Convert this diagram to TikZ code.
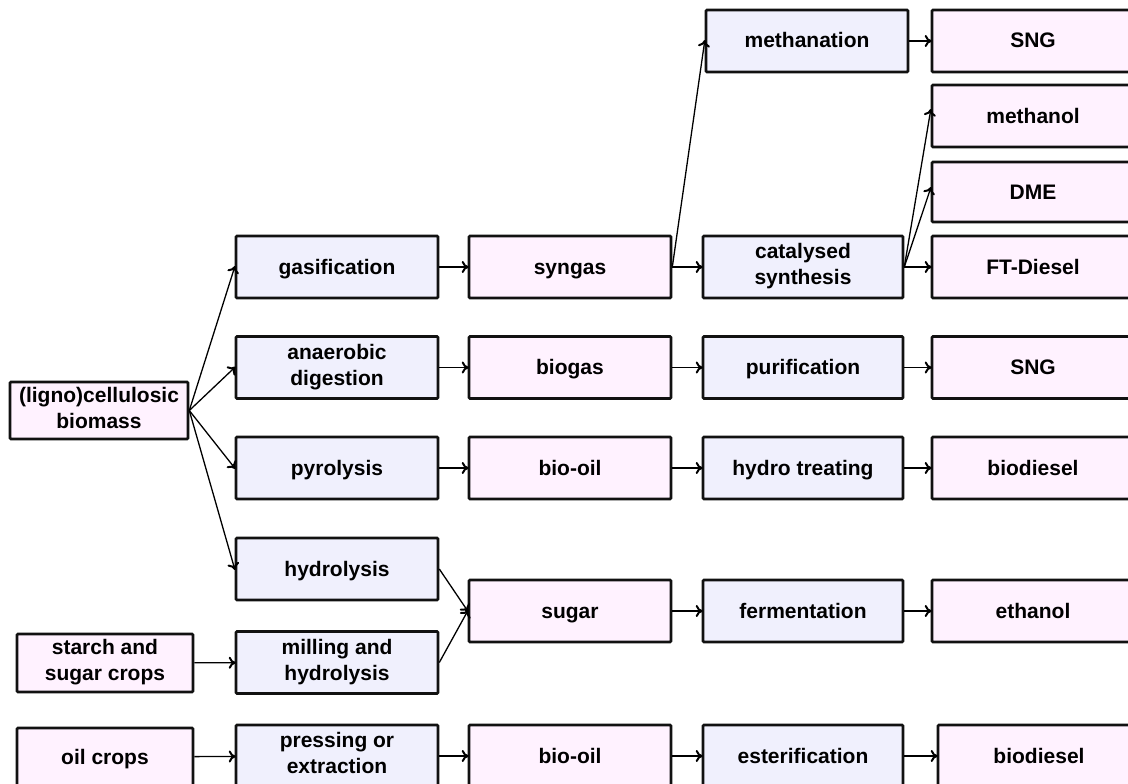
\documentclass[tikz,border=0pt]{standalone}
\usepackage{fontspec}
\setmainfont{Liberation Sans}
\usepackage{tikz}
\usetikzlibrary{arrows.meta,positioning}
\usepackage{xcolor}
\definecolor{prodfill}{HTML}{FFF2FF}
\definecolor{procfill}{HTML}{F0F0FD}
\definecolor{edgeblack}{HTML}{111111}
\newcommand{\boxstrut}{\rule[-6pt]{0pt}{26pt}}

\begin{document}
\begin{tikzpicture}[
  x=1pt, y=-1pt,
  font=\fontsize{21}{26}\selectfont\bfseries,
  prodbox/.style={
    draw=edgeblack,
    fill=prodfill,
    line width=2.6pt,
    rounded corners=1pt,
    inner sep=0pt,
    minimum width=202pt,
    minimum height=62pt,
    align=center,
    execute at begin node=\boxstrut,
    execute at end node=\boxstrut
  },
  procbox/.style={
    prodbox,
    fill=procfill
  },
  feedbox/.style={
    prodbox,
    minimum width=176pt,
    minimum height=58pt
  },
  flowarrow/.style={
    -{To[length=7pt,width=12pt,line width=2pt]},
    line width=1.3pt,
    draw=black,
    shorten >=-1pt
  }
]
  \clip (0,0) rectangle (1128,784);
  \fill[white] (0,0) rectangle (1128,784);

  % ----------------------------------------------------
  % FEEDSTOCKS
  % ----------------------------------------------------
  \node[feedbox, minimum width=178pt, minimum height=57pt] (ligno) at (99, 410.5) {(ligno)cellulosic\\biomass};
  \node[feedbox] (starch) at (105, 663) {starch and\\sugar crops};
  \node[feedbox] (oilcrops) at (105, 757) {oil crops};

  % ----------------------------------------------------
  % FIRST CONVERSION STEP
  % ----------------------------------------------------
  \node[procbox] (gasif) at (337, 267) {gasification};
  \node[procbox] (anaer) at (337, 367.5) {anaerobic\\digestion};
  \node[procbox] (pyrol) at (337, 468) {pyrolysis};
  \node[procbox] (hydrol) at (337, 569) {hydrolysis};
  \node[procbox] (milling) at (337, 662.5) {milling and\\hydrolysis};
  \node[procbox] (pressing) at (337, 756) {pressing or\\extraction};

  % ----------------------------------------------------
  % INTERMEDIATES
  % ----------------------------------------------------
  \node[prodbox] (syngas) at (570, 267) {syngas};
  \node[prodbox] (biogas) at (570, 367.5) {biogas};
  \node[prodbox] (biooilA) at (570, 468) {bio-oil};
  \node[prodbox] (sugar) at (570, 611) {sugar};
  \node[prodbox] (biooilB) at (570, 756) {bio-oil};

  % ----------------------------------------------------
  % UPGRADING STEP
  % ----------------------------------------------------
  \node[procbox] (methanation) at (807, 41) {methanation};
  \node[procbox, minimum width=200pt] (catsyn) at (803, 267) {catalysed\\synthesis};
  \node[procbox, minimum width=200pt] (purif) at (803, 367.5) {purification};
  \node[procbox, minimum width=200pt] (hydrotreat) at (803, 468) {hydro treating};
  \node[procbox, minimum width=200pt] (ferment) at (803, 611) {fermentation};
  \node[procbox, minimum width=200pt] (ester) at (803, 756) {esterification};

  % ----------------------------------------------------
  % FINAL PRODUCTS
  % ----------------------------------------------------
  \node[prodbox] (sngA) at (1033, 41) {SNG};
  \node[prodbox] (methanol) at (1033, 116) {methanol};
  \node[prodbox, minimum height=60pt] (dme) at (1033, 192) {DME};
  \node[prodbox] (ftdiesel) at (1033, 267) {FT-Diesel};
  \node[prodbox] (sngB) at (1033, 367.5) {SNG};
  \node[prodbox] (biodieselA) at (1033, 468) {biodiesel};
  \node[prodbox] (ethanol) at (1033, 611) {ethanol};
  \node[prodbox] (biodieselB) at (1039, 756) {biodiesel};

  % Feedstock to first step
  \draw[flowarrow] (ligno.east) -- (gasif.west);
  \draw[flowarrow] (ligno.east) -- (anaer.west);
  \draw[flowarrow] (ligno.east) -- (pyrol.west);
  \draw[flowarrow] (ligno.east) -- (hydrol.west);
  \draw[flowarrow] (starch) -- (milling);
  \draw[flowarrow] (oilcrops) -- (pressing);

  % First step to intermediates
  \draw[flowarrow] (gasif) -- (syngas);
  \draw[flowarrow] (anaer) -- (biogas);
  \draw[flowarrow] (pyrol) -- (biooilA);
  \draw[flowarrow] (hydrol.east) -- (sugar.west);
  \draw[flowarrow] (milling.east) -- (sugar.west);
  \draw[flowarrow] (pressing) -- (biooilB);

  % Intermediates to upgrading
  \draw[flowarrow] (syngas.east) -- (methanation.west);
  \draw[flowarrow] (syngas) -- (catsyn);
  \draw[flowarrow] (biogas) -- (purif);
  \draw[flowarrow] (biooilA) -- (hydrotreat);
  \draw[flowarrow] (sugar) -- (ferment);
  \draw[flowarrow] (biooilB) -- (ester);

  % Upgrading to products
  \draw[flowarrow] (methanation) -- (sngA);
  \draw[flowarrow] (catsyn.east) -- ([yshift=6pt]methanol.west);
  \draw[flowarrow] (catsyn.east) -- ([yshift=4pt]dme.west);
  \draw[flowarrow] (catsyn) -- (ftdiesel);
  \draw[flowarrow] (purif) -- (sngB);
  \draw[flowarrow] (hydrotreat) -- (biodieselA);
  \draw[flowarrow] (ferment) -- (ethanol);
  \draw[flowarrow] (ester) -- (biodieselB);

\end{tikzpicture}
\end{document}
